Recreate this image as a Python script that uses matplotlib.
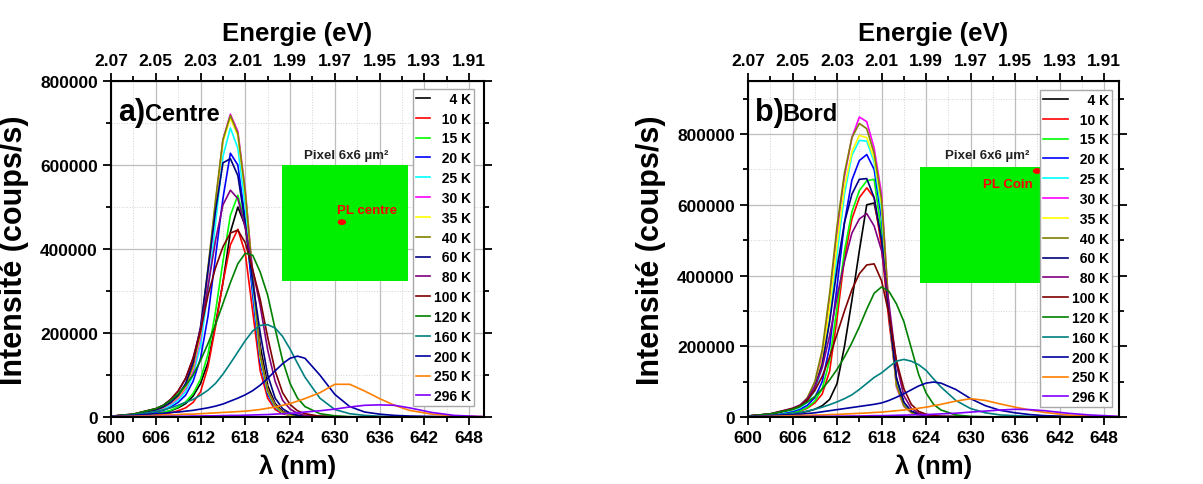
import matplotlib.pyplot as plt
from matplotlib.ticker import MultipleLocator, StrMethodFormatter
from matplotlib.patches import Rectangle, Ellipse

plt.rcParams['font.family'] = ['Liberation Sans', 'DejaVu Sans']
plt.rcParams['font.weight'] = 'bold'

# wavelength grid (nm) and intensities (in k counts/s)
wavelength = [600, 603, 606, 607, 608, 609, 610, 611, 612, 613, 614, 615, 616, 617, 618, 619,
              620, 621, 622, 623, 624, 625, 626, 628, 630, 632, 634, 636, 638, 640, 643, 646, 650]

temps = ['4 K', '10 K', '15 K', '20 K', '25 K', '30 K', '35 K', '40 K',
         '60 K', '80 K', '100 K', '120 K', '160 K', '200 K', '250 K', '296 K']

# a) Centre
a_4K = [1, 3, 8, 11, 15, 22, 32, 50, 80, 130, 220, 320, 440, 500, 455, 330, 170, 75, 32, 14, 7, 4, 2,
        1, 0.5, 0.5, 0.5, 0.5, 0.3, 0.3, 0.2, 0.2, 0.1]
a_10K = [1, 2, 5, 7, 10, 15, 22, 35, 60, 120, 215, 320, 410, 447, 390, 250, 110, 45, 18, 8, 4, 2, 1,
         1, 0.5, 0.5, 0.5, 0.5, 0.3, 0.3, 0.2, 0.2, 0.1]
a_15K = [1, 3, 8, 11, 16, 24, 36, 56, 90, 150, 250, 370, 480, 528, 460, 300, 140, 58, 24, 10, 5, 3, 1.5,
         1, 0.5, 0.5, 0.5, 0.5, 0.3, 0.3, 0.2, 0.2, 0.1]
a_20K = [1.5, 4, 12, 16, 24, 35, 52, 85, 140, 240, 380, 520, 628, 600, 470, 290, 130, 55, 23, 10, 5, 3, 1.5,
         1, 0.5, 0.5, 0.5, 0.5, 0.3, 0.3, 0.2, 0.2, 0.1]
a_25K = [2, 5, 14, 19, 28, 40, 60, 100, 170, 300, 460, 620, 688, 640, 500, 310, 140, 60, 25, 11, 5, 3, 1.5,
         1, 0.5, 0.5, 0.5, 0.5, 0.3, 0.3, 0.2, 0.2, 0.1]
a_30K = [2, 6, 16, 22, 32, 45, 68, 110, 190, 340, 505, 660, 721, 680, 540, 340, 150, 65, 28, 12, 6, 3, 1.5,
         1, 0.5, 0.5, 0.5, 0.5, 0.3, 0.3, 0.2, 0.2, 0.1]
a_35K = [2, 6, 17, 23, 34, 48, 72, 118, 200, 350, 510, 655, 712, 670, 530, 330, 145, 62, 26, 11, 5, 3, 1.5,
         1, 0.5, 0.5, 0.5, 0.5, 0.3, 0.3, 0.2, 0.2, 0.1]
a_40K = [2, 6, 17, 24, 35, 50, 75, 122, 205, 355, 515, 660, 718, 675, 535, 335, 148, 63, 27, 12, 6, 3, 1.5,
         1, 0.5, 0.5, 0.5, 0.5, 0.3, 0.3, 0.2, 0.2, 0.1]
a_60K = [2, 6, 17, 24, 35, 52, 80, 130, 215, 350, 490, 605, 615, 575, 460, 320, 200, 100, 45, 20, 9, 4, 2,
         1, 0.5, 0.5, 0.5, 0.5, 0.3, 0.3, 0.2, 0.2, 0.1]
a_80K = [2, 7, 20, 28, 42, 62, 92, 140, 210, 310, 420, 505, 540, 520, 450, 350, 265, 160, 85, 40, 19, 9, 4,
         1.5, 0.8, 0.5, 0.5, 0.5, 0.3, 0.3, 0.2, 0.2, 0.1]
a_100K = [2, 7, 20, 28, 42, 62, 92, 140, 205, 290, 355, 405, 438, 445, 415, 350, 280, 190, 110, 58, 30, 15, 8,
          2, 1, 0.5, 0.5, 0.5, 0.3, 0.3, 0.2, 0.2, 0.1]
a_120K = [2, 7, 20, 28, 40, 55, 75, 100, 135, 175, 220, 270, 320, 365, 390, 385, 345, 290, 210, 135, 80, 45, 25,
          8, 3, 1, 0.5, 0.5, 0.3, 0.3, 0.2, 0.2, 0.1]
a_160K = [2, 5, 13, 17, 22, 28, 35, 42, 52, 64, 80, 102, 128, 155, 182, 205, 218, 220, 212, 192, 162, 128, 95,
          45, 18, 8, 4, 2, 1, 0.5, 0.3, 0.2, 0.1]
a_200K = [2, 4, 8, 9, 11, 12, 14, 16, 19, 22, 26, 31, 38, 45, 53, 63, 76, 92, 110, 127, 140, 145, 140,
          100, 54, 25, 12, 7, 4, 2.5, 1.5, 1, 0.5]
a_250K = [1, 2, 4, 5, 5, 6, 7, 7, 8, 9, 10, 11, 12, 13, 14, 16, 18, 21, 24, 28, 32, 38, 44,
          58, 78, 78, 62, 44, 28, 16, 7, 3, 1]
a_296K = [0.5, 1, 1.5, 1.5, 2, 2, 2, 2.5, 2.5, 3, 3, 3.5, 4, 4, 4.5, 5, 5.5, 6, 7, 8, 9, 10, 12,
          15, 19, 24, 28, 29, 28, 22, 11, 4, 1]

# b) Bord
b_4K = [2, 4, 9, 12, 16, 22, 32, 50, 95, 200, 330, 470, 600, 605, 500, 290, 110, 40, 15, 7, 3, 2, 1,
        1, 0.5, 0.5, 0.5, 0.5, 0.3, 0.3, 0.2, 0.2, 0.1]
b_10K = [2, 5, 12, 17, 25, 40, 65, 130, 280, 450, 560, 620, 648, 620, 480, 270, 100, 38, 15, 7, 3, 2, 1,
         1, 0.5, 0.5, 0.5, 0.5, 0.3, 0.3, 0.2, 0.2, 0.1]
b_15K = [2, 5, 13, 18, 27, 45, 80, 160, 310, 470, 580, 640, 668, 672, 520, 290, 105, 38, 15, 7, 3, 2, 1,
         1, 0.5, 0.5, 0.5, 0.5, 0.3, 0.3, 0.2, 0.2, 0.1]
b_20K = [2, 6, 16, 22, 33, 55, 100, 200, 370, 550, 670, 725, 742, 700, 560, 300, 105, 38, 15, 7, 3, 2, 1,
         1, 0.5, 0.5, 0.5, 0.5, 0.3, 0.3, 0.2, 0.2, 0.1]
b_25K = [3, 7, 19, 26, 42, 75, 140, 280, 460, 630, 740, 782, 780, 720, 580, 300, 95, 35, 14, 6, 3, 2, 1,
         1, 0.5, 0.5, 0.5, 0.5, 0.3, 0.3, 0.2, 0.2, 0.1]
b_30K = [3, 8, 22, 30, 50, 90, 170, 330, 520, 680, 790, 848, 835, 760, 630, 300, 85, 30, 12, 6, 3, 2, 1,
         1, 0.5, 0.5, 0.5, 0.5, 0.3, 0.3, 0.2, 0.2, 0.1]
b_35K = [3, 8, 21, 29, 47, 85, 160, 310, 490, 650, 750, 796, 790, 730, 600, 300, 90, 32, 13, 6, 3, 2, 1,
         1, 0.5, 0.5, 0.5, 0.5, 0.3, 0.3, 0.2, 0.2, 0.1]
b_40K = [3, 8, 23, 32, 55, 100, 190, 350, 540, 690, 790, 830, 815, 745, 615, 300, 90, 32, 13, 6, 3, 2, 1,
         1, 0.5, 0.5, 0.5, 0.5, 0.3, 0.3, 0.2, 0.2, 0.1]
b_60K = [3, 8, 22, 30, 48, 85, 150, 270, 420, 550, 630, 672, 674, 620, 500, 290, 110, 42, 17, 8, 4, 2, 1,
         1, 0.5, 0.5, 0.5, 0.5, 0.3, 0.3, 0.2, 0.2, 0.1]
b_80K = [3, 9, 25, 34, 52, 85, 140, 230, 340, 440, 520, 560, 575, 540, 470, 320, 150, 60, 25, 11, 5, 3, 1.5,
         1, 0.5, 0.5, 0.5, 0.5, 0.3, 0.3, 0.2, 0.2, 0.1]
b_100K = [3, 9, 24, 32, 48, 75, 115, 170, 235, 300, 360, 405, 430, 433, 385, 290, 160, 80, 36, 16, 8, 4, 2,
          1, 0.5, 0.5, 0.5, 0.5, 0.3, 0.3, 0.2, 0.2, 0.1]
b_120K = [3, 9, 22, 30, 42, 58, 80, 105, 135, 170, 210, 255, 305, 350, 368, 355, 320, 270, 195, 120, 68, 36, 20,
          6, 2, 1, 0.5, 0.5, 0.3, 0.3, 0.2, 0.2, 0.1]
b_160K = [2, 5, 10, 13, 17, 22, 28, 35, 43, 52, 63, 78, 95, 112, 125, 142, 158, 163, 158, 148, 132, 108, 85,
          47, 24, 12, 6, 4, 2, 1, 0.5, 0.3, 0.1]
b_200K = [2, 4, 7, 8, 10, 12, 15, 18, 21, 24, 27, 30, 33, 36, 40, 47, 56, 66, 77, 88, 96, 99, 96,
          78, 52, 32, 19, 12, 7, 4, 2, 1, 0.5]
b_250K = [1, 2, 4, 4.5, 5, 5.5, 6, 7, 7.5, 8.5, 9.5, 10.5, 11.5, 13, 14, 16, 18, 20, 22, 25, 28, 32, 36,
          45, 52, 47, 37, 28, 20, 13, 6, 3, 1]
b_296K = [0.5, 1, 1, 1.5, 1.5, 2, 2, 2, 2.5, 2.5, 3, 3, 3.5, 4, 4, 4.5, 5, 5.5, 6, 6.5, 7, 8, 9,
          11, 14, 17, 20, 22, 21, 18, 11, 6, 2]

centre = [a_4K, a_10K, a_15K, a_20K, a_25K, a_30K, a_35K, a_40K,
          a_60K, a_80K, a_100K, a_120K, a_160K, a_200K, a_250K, a_296K]
bord = [b_4K, b_10K, b_15K, b_20K, b_25K, b_30K, b_35K, b_40K,
        b_60K, b_80K, b_100K, b_120K, b_160K, b_200K, b_250K, b_296K]

wl_ticks = [600, 606, 612, 618, 624, 630, 636, 642, 648]
energy_labels = ['2.07', '2.05', '2.03', '2.01', '1.99', '1.97', '1.95', '1.93', '1.91']

# Origin default palette
colors = ['#000000', '#ff0000', '#00ff00', '#0000ff', '#00ffff', '#ff00ff', '#ffff00', '#808000',
          '#000080', '#800080', '#800000', '#008000', '#008080', '#0000a0', '#ff8000', '#8000ff']


def pad_label(t):
    # two spaces ~ one digit width -> right-aligned looking labels
    n = len(t.split()[0])
    return ' ' * (2 * (3 - n)) + t


fig = plt.figure(figsize=(12.03, 4.85), dpi=100)
ax_a = fig.add_axes([0.0923, 0.138, 0.310, 0.693])
ax_b = fig.add_axes([0.6218, 0.138, 0.3084, 0.693])


def draw_panel(ax, curves, ymax, letter, name, name_x, leg_anchor, handlelen):
    for vals, t, c in zip(curves, temps, colors):
        ax.plot(wavelength, [v * 1000 for v in vals], color=c, lw=1.2, label=pad_label(t))
    ax.set_xlim(600, 650)
    ax.set_ylim(0, ymax)
    ax.set_xticks(wl_ticks)
    ax.xaxis.set_minor_locator(MultipleLocator(3))
    ax.set_yticks([0, 200000, 400000, 600000, 800000])
    ax.yaxis.set_minor_locator(MultipleLocator(100000))
    ax.yaxis.set_major_formatter(StrMethodFormatter('{x:.0f}'))
    ax.grid(which='major', color='#bdbdbd', lw=0.9)
    ax.grid(which='minor', color='#d2d2d2', lw=0.7, ls=':')
    ax.set_axisbelow(True)
    ax.tick_params(which='both', direction='out', right=True, width=1.3, labelsize=12.5)
    ax.tick_params(which='major', length=6)
    ax.tick_params(which='minor', length=3.5)
    for s in ax.spines.values():
        s.set_linewidth(1.5)

    sec = ax.secondary_xaxis('top')
    sec.set_xticks(wl_ticks, energy_labels)
    sec.xaxis.set_minor_locator(MultipleLocator(3))
    sec.tick_params(which='both', direction='out', width=1.3, labelsize=12.5)
    sec.tick_params(which='major', length=6)
    sec.tick_params(which='minor', length=3.5)
    sec.set_xlabel('Energie (eV)', fontsize=18.5, fontweight='bold', labelpad=9)

    ax.set_xlabel('λ (nm)', fontsize=18.5, fontweight='bold', labelpad=6)
    ax.set_ylabel('Intensité (coups/s)', fontsize=22, fontweight='bold', labelpad=8)

    ax.text(0.019, 0.884, letter, transform=ax.transAxes, fontsize=22, fontweight='bold', va='baseline')
    ax.text(name_x, 0.884, name, transform=ax.transAxes, fontsize=17, fontweight='bold', va='baseline')

    leg = ax.legend(loc='upper right', bbox_to_anchor=leg_anchor, borderaxespad=0,
                    prop={'size': 10, 'weight': 'bold'}, handlelength=handlelen,
                    handletextpad=0.3, labelspacing=0.42, borderpad=0.2,
                    fancybox=False, framealpha=1, edgecolor='#a8a8a8')
    leg.get_frame().set_linewidth(1.0)
    leg.set_zorder(6)


draw_panel(ax_a, centre, 800000, 'a)', 'Centre', 0.092, (0.973, 0.976), 1.0)
draw_panel(ax_b, bord, 950000, 'b)', 'Bord', 0.092, (0.981, 0.973), 1.8)

# pixel insets
ax_a.add_patch(Rectangle((0.458, 0.405), 0.338, 0.345, transform=ax_a.transAxes,
                         facecolor='#00ee00', edgecolor='none', zorder=3))
ax_a.text(0.630, 0.762, 'Pixel 6x6 µm²', transform=ax_a.transAxes, ha='center', va='bottom',
          fontsize=9.5, fontweight='bold', color='#222222', zorder=4)
ax_a.add_patch(Ellipse((0.619, 0.580), 0.019, 0.013, transform=ax_a.transAxes,
                       color='#ff0000', zorder=4))
ax_a.text(0.606, 0.616, 'PL centre', transform=ax_a.transAxes, ha='left', va='center',
          fontsize=9.5, fontweight='bold', color='#ff0000', zorder=4)

ax_b.add_patch(Rectangle((0.4636, 0.399), 0.3315, 0.345, transform=ax_b.transAxes,
                         facecolor='#00ee00', edgecolor='none', zorder=3))
ax_b.text(0.644, 0.762, 'Pixel 6x6 µm²', transform=ax_b.transAxes, ha='center', va='bottom',
          fontsize=9.5, fontweight='bold', color='#222222', zorder=4)
ax_b.add_patch(Ellipse((0.779, 0.732), 0.019, 0.013, transform=ax_b.transAxes,
                       color='#ff0000', zorder=4))
ax_b.text(0.768, 0.693, 'PL Coin', transform=ax_b.transAxes, ha='right', va='center',
          fontsize=9.5, fontweight='bold', color='#ff0000', zorder=4)

fig.savefig('out.png', dpi=100)
